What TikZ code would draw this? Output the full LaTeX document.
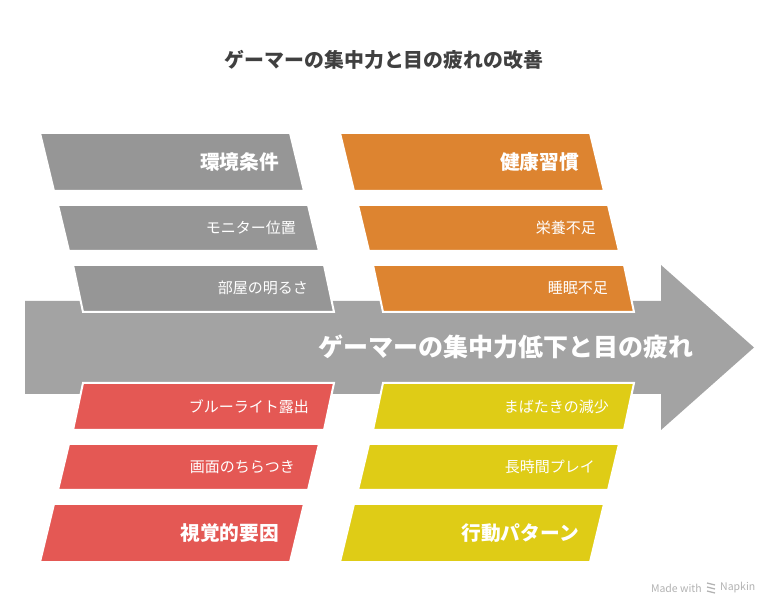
\documentclass[tikz,border=0pt]{standalone}
\usepackage{fontspec}
\setmainfont{Noto Sans CJK JP}
\usepackage{xcolor}
\usepackage{tikz}
\usetikzlibrary{positioning}
\definecolor{arrowgray}{RGB}{163, 163, 163}
\definecolor{envgray}{RGB}{150, 150, 150}
\definecolor{habitorange}{RGB}{221, 132, 48}
\definecolor{visualred}{RGB}{228, 88, 84}
\definecolor{behavyellow}{RGB}{223, 204, 22}
\definecolor{titlegray}{RGB}{64, 64, 64}

\begin{document}
\begin{tikzpicture}[x=1pt, y=-1pt,
  band/.style={draw=white, line width=2pt, line join=miter},
  cat/.style={anchor=east, inner sep=0pt, text=white, font=\bfseries\fontsize{19.7}{22}\selectfont},
  item/.style={anchor=east, inner sep=0pt, text=white, font=\fontsize{15}{17}\selectfont}]
\useasboundingbox (0,0) rectangle (780,612);

\node[font=\bfseries\fontsize{19.9}{22}\selectfont, text=titlegray] (title) at (384,60) {ゲーマーの集中力と目の疲れの改善};

% Main arrow
\fill[arrowgray] (25,301) -- (661,301) -- (661,265) -- (754,347.5) -- (661,430) -- (661,394) -- (25,394) -- cycle;
\node[font=\bfseries\fontsize{25}{28}\selectfont, text=white, anchor=east, inner sep=0pt] (effect) at (694,347) {ゲーマーの集中力低下と目の疲れ};

% Environment (top left)
\filldraw[envgray, band] (40,133) -- (290,133) -- (304,191) -- (54,191) -- cycle;
\filldraw[envgray, band] (58,205) -- (308,205) -- (319,251) -- (69,251) -- cycle;
\filldraw[envgray, band] (73,265) -- (324,265) -- (334,312) -- (83,312) -- cycle;
\node[cat] (env) at (279,162) {環境条件};
\node[item] (monitor) at (296,228) {モニター位置};
\node[item] (light) at (308,288) {部屋の明るさ};

% Habits (top right)
\filldraw[habitorange, band] (340,133) -- (590,133) -- (604,191) -- (354,191) -- cycle;
\filldraw[habitorange, band] (358,205) -- (608,205) -- (619,251) -- (369,251) -- cycle;
\filldraw[habitorange, band] (373,265) -- (624,265) -- (634,312) -- (383,312) -- cycle;
\node[cat] (habit) at (579,162) {健康習慣};
\node[item] (food) at (596,228) {栄養不足};
\node[item] (sleep) at (608,288) {睡眠不足};

% Visual factors (bottom left)
\filldraw[visualred, band] (83,383) -- (334,383) -- (324,430) -- (73,430) -- cycle;
\filldraw[visualred, band] (69,444) -- (319,444) -- (308,490) -- (58,490) -- cycle;
\filldraw[visualred, band] (54,504) -- (304,504) -- (290,562) -- (40,562) -- cycle;
\node[item] (blue) at (309,407) {ブルーライト露出};
\node[item] (flicker) at (295,467) {画面のちらつき};
\node[cat] (visual) at (279,533) {視覚的要因};

% Behaviour (bottom right)
\filldraw[behavyellow, band] (383,383) -- (634,383) -- (624,430) -- (373,430) -- cycle;
\filldraw[behavyellow, band] (369,444) -- (619,444) -- (608,490) -- (358,490) -- cycle;
\filldraw[behavyellow, band] (354,504) -- (604,504) -- (590,562) -- (340,562) -- cycle;
\node[item] (blink) at (609,407) {まばたきの減少};
\node[item] (play) at (595,467) {長時間プレイ};
\node[cat] (behav) at (579,533) {行動パターン};

% Footer
\node[font=\fontsize{10.5}{12}\selectfont, text=black!30, anchor=east, inner sep=0pt] (made) at (702,588) {Made with};
\node[font=\fontsize{10.5}{12}\selectfont, text=black!30, anchor=west, inner sep=0pt] (napkin) at (720,588) {Napkin};
\draw[black!30, line width=1.3pt] (707,583) -- (715,585) (707,587) -- (715,589) (707,591) -- (715,593);
\end{tikzpicture}
\end{document}
